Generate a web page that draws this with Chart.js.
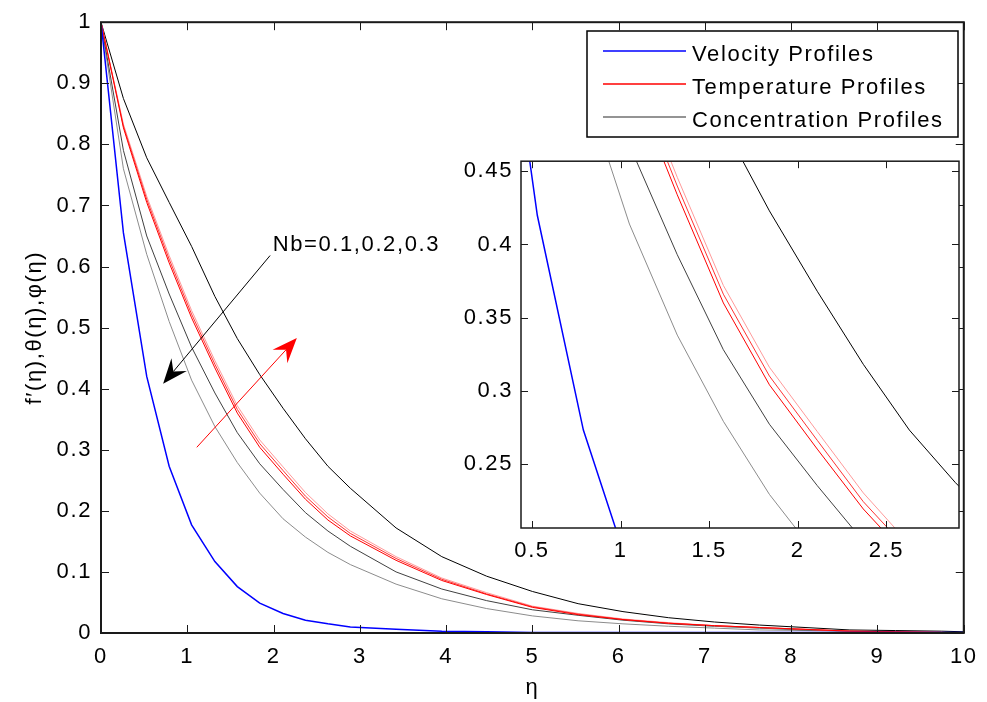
<!DOCTYPE html>
<html>
<head>
<meta charset="utf-8">
<title>Velocity, temperature and concentration profiles</title>
<script src="https://cdn.jsdelivr.net/npm/chart.js@4.4.1/dist/chart.umd.min.js"></script>
<style>
  html, body { margin: 0; padding: 0; background: #fff; }
  #wrap  { position: relative; width: 987px; height: 702px; }
  #main  { position: absolute; left: 0; top: 0; }
  #inset { position: absolute; left: 440px; top: 140px; }
</style>
</head>
<body>
<div id="wrap">
  <canvas id="main" width="987" height="702"></canvas>
  <canvas id="inset" width="540" height="430"></canvas>
</div>
<script>
/* ── DATA ── */
const eta       = [0, 0.26, 0.53, 0.79, 1.05, 1.32, 1.58, 1.84, 2.11, 2.37, 2.63, 2.89, 3.42, 3.95, 4.47, 5.00, 5.53, 6.05, 6.58, 7.11, 7.63, 8.16, 8.68, 9.21, 9.74, 10.00];
const velocity  = [1, 0.655, 0.42, 0.273, 0.177, 0.117, 0.076, 0.049, 0.032, 0.021, 0.015, 0.010, 0.006, 0.003, 0.002, 0.001, 0.001, 0.001, 0.001, 0.001, 0.001, 0.001, 0.001, 0.001, 0.001, 0.001];
const tempNb01  = [1, 0.827, 0.705, 0.606, 0.516, 0.434, 0.360, 0.304, 0.260, 0.219, 0.185, 0.159, 0.119, 0.086, 0.063, 0.042, 0.030, 0.022, 0.016, 0.012, 0.009, 0.006, 0.003, 0.002, 0.001, 0];
const tempNb02  = [1, 0.830, 0.710, 0.612, 0.522, 0.440, 0.366, 0.310, 0.266, 0.224, 0.190, 0.163, 0.122, 0.088, 0.064, 0.043, 0.031, 0.022, 0.016, 0.012, 0.009, 0.006, 0.003, 0.002, 0.001, 0];
const tempNb03  = [1, 0.833, 0.715, 0.618, 0.528, 0.446, 0.372, 0.316, 0.272, 0.230, 0.195, 0.167, 0.125, 0.090, 0.066, 0.044, 0.032, 0.023, 0.017, 0.012, 0.009, 0.006, 0.003, 0.002, 0.001, 0];
const concNb01  = [1, 0.875, 0.778, 0.705, 0.633, 0.551, 0.482, 0.423, 0.368, 0.318, 0.273, 0.237, 0.172, 0.125, 0.093, 0.068, 0.048, 0.035, 0.025, 0.018, 0.013, 0.009, 0.005, 0.004, 0.003, 0.002];
const concNb02  = [1, 0.79, 0.65, 0.555, 0.468, 0.393, 0.328, 0.277, 0.235, 0.197, 0.167, 0.142, 0.100, 0.072, 0.053, 0.038, 0.029, 0.021, 0.015, 0.011, 0.008, 0.005, 0.003, 0.002, 0.001, 0.001];
const concNb03  = [1, 0.76, 0.62, 0.51, 0.414, 0.338, 0.279, 0.229, 0.187, 0.157, 0.132, 0.112, 0.080, 0.056, 0.040, 0.028, 0.020, 0.015, 0.011, 0.008, 0.005, 0.004, 0.003, 0.002, 0.001, 0.001];

const mainXTicks  = [0, 1, 2, 3, 4, 5, 6, 7, 8, 9, 10];
const mainYTicks  = [0, 0.1, 0.2, 0.3, 0.4, 0.5, 0.6, 0.7, 0.8, 0.9, 1];
const insetXTicks = [0.5, 1, 1.5, 2, 2.5];
const insetYTicks = [0.25, 0.3, 0.35, 0.4, 0.45];

const legendLabels = ['Velocity Profiles', 'Temperature Profiles', 'Concentration Profiles'];
const nbLabel      = 'Nb=0.1,0.2,0.3';

/* ── STYLE ── */
const FONT = "'Liberation Sans', Arial, sans-serif";
Chart.defaults.font.family = FONT;
Chart.defaults.font.size   = 22;
Chart.defaults.color       = '#000';

const series = [
  { data: velocity, color: '#0000ff', width: 1.5 },
  { data: tempNb01, color: '#ff0000', width: 1 },
  { data: tempNb02, color: '#ff3333', width: 1 },
  { data: tempNb03, color: '#ff9a9a', width: 1 },
  { data: concNb01, color: '#000000', width: 1 },
  { data: concNb02, color: '#404040', width: 1 },
  { data: concNb03, color: '#8c8c8c', width: 1 },
];

const makeDatasets = () => series.map(s => ({
  data: eta.map((x, i) => ({ x, y: s.data[i] })),
  borderColor: s.color,
  borderWidth: s.width,
  pointRadius: 0,
  tension: 0,
  fill: false,
}));

const tickList = arr => s => { s.ticks = arr.map(v => ({ value: v })); };

/* MATLAB-like box with inward ticks */
function drawFrame(chart, len, lw) {
  const { ctx, chartArea: a, scales: { x, y } } = chart;
  ctx.save();
  ctx.strokeStyle = '#1a1a1a';
  ctx.lineWidth = lw;
  ctx.strokeRect(a.left, a.top, a.right - a.left, a.bottom - a.top);
  ctx.lineWidth = 1;
  ctx.beginPath();
  x.ticks.forEach(t => {
    const px = Math.round(x.getPixelForValue(t.value)) + 0.5;
    ctx.moveTo(px, a.bottom); ctx.lineTo(px, a.bottom - len);
    ctx.moveTo(px, a.top);    ctx.lineTo(px, a.top + len);
  });
  y.ticks.forEach(t => {
    const py = Math.round(y.getPixelForValue(t.value)) + 0.5;
    ctx.moveTo(a.left, py);  ctx.lineTo(a.left + len, py);
    ctx.moveTo(a.right, py); ctx.lineTo(a.right - len, py);
  });
  ctx.stroke();
  ctx.restore();
}

function drawArrow(ctx, x1, y1, x2, y2, color) {
  const ang = Math.atan2(y2 - y1, x2 - x1);
  const c = Math.cos(ang), s = Math.sin(ang);
  const L = 25, W = 10, back = 16;
  ctx.save();
  ctx.strokeStyle = color;
  ctx.fillStyle = color;
  ctx.lineWidth = 1;
  ctx.beginPath();
  ctx.moveTo(x1, y1);
  ctx.lineTo(x2 - c * back, y2 - s * back);
  ctx.stroke();
  const bx = x2 - c * L, by = y2 - s * L;
  ctx.beginPath();
  ctx.moveTo(x2, y2);
  ctx.lineTo(bx - s * W, by + c * W);
  ctx.lineTo(x2 - c * back, y2 - s * back);
  ctx.lineTo(bx + s * W, by - c * W);
  ctx.closePath();
  ctx.fill();
  ctx.restore();
}

const spacing = { id: 'spacing', beforeDraw(chart) { chart.ctx.letterSpacing = '1.6px'; } };

/* ── MAIN CHART ── */
const mainDecor = {
  id: 'mainDecor',
  afterDatasetsDraw(chart) {
    const { ctx, scales: { x, y } } = chart;
    drawFrame(chart, 8, 2);

    // Nb annotation + arrows
    drawArrow(ctx, x.getPixelForValue(1.96), y.getPixelForValue(0.618),
                   x.getPixelForValue(0.72), y.getPixelForValue(0.408), '#000');
    drawArrow(ctx, x.getPixelForValue(1.11), y.getPixelForValue(0.304),
                   x.getPixelForValue(2.27), y.getPixelForValue(0.483), '#ff0000');
    ctx.save();
    ctx.letterSpacing = '1.6px';
    ctx.font = `22px ${FONT}`;
    ctx.fillStyle = '#000';
    ctx.textBaseline = 'alphabetic';
    ctx.fillText(nbLabel, x.getPixelForValue(1.99), y.getPixelForValue(0.626));
    ctx.restore();
  },
  afterDraw(chart) {
    // legend box (top right)
    const { ctx } = chart;
    const box = { l: 587, t: 31, w: 371, h: 106 };
    const rows = [51, 84, 117];
    const cols = ['#0000ff', '#ff0000', '#707070'];
    ctx.save();
    ctx.fillStyle = '#fff';
    ctx.fillRect(box.l, box.t, box.w, box.h);
    ctx.strokeStyle = '#000';
    ctx.lineWidth = 1.5;
    ctx.strokeRect(box.l, box.t, box.w, box.h);
    ctx.font = `22px ${FONT}`;
    ctx.letterSpacing = '1.6px';
    ctx.textBaseline = 'alphabetic';
    legendLabels.forEach((lab, i) => {
      ctx.strokeStyle = cols[i];
      ctx.lineWidth = 1.5;
      ctx.beginPath();
      ctx.moveTo(603, rows[i]);
      ctx.lineTo(686, rows[i]);
      ctx.stroke();
      ctx.fillStyle = '#000';
      ctx.fillText(lab, 692, rows[i] + 9.5);
    });
    ctx.restore();
  },
};

new Chart(document.getElementById('main'), {
  type: 'line',
  data: { datasets: makeDatasets() },
  options: {
    responsive: false,
    devicePixelRatio: 1,
    animation: false,
    events: [],
    layout: { padding: { top: 17, right: 22, left: 0, bottom: 0 } },
    plugins: { legend: { display: false }, tooltip: { enabled: false } },
    scales: {
      x: {
        type: 'linear', min: 0, max: 10,
        afterBuildTicks: tickList(mainXTicks),
        afterFit: s => { s.height = 69; },
        grid: { display: false, drawTicks: false },
        border: { display: false },
        ticks: { padding: 11, maxRotation: 0, autoSkip: false, callback: v => String(v) },
        title: { display: true, text: 'η', padding: { top: 0, bottom: 1 } },
      },
      y: {
        type: 'linear', min: 0, max: 1,
        afterBuildTicks: tickList(mainYTicks),
        afterFit: s => { s.width = 101; },
        grid: { display: false, drawTicks: false },
        border: { display: false },
        ticks: { padding: 9, autoSkip: false, callback: v => String(v) },
        title: { display: true, text: 'f′(η),θ(η),φ(η)', padding: { top: 22, bottom: 0 } },
      },
    },
  },
  plugins: [spacing, mainDecor],
});

/* ── INSET (zoom of 0.44 < η < 2.91) ── */
const insetDecor = {
  id: 'insetDecor',
  beforeDatasetsDraw(chart) {
    const { ctx, chartArea: a } = chart;
    ctx.save();
    ctx.fillStyle = '#fff';
    ctx.fillRect(a.left, a.top, a.right - a.left, a.bottom - a.top);
    ctx.restore();
  },
  afterDatasetsDraw(chart) { drawFrame(chart, 7, 1.5); },
};

new Chart(document.getElementById('inset'), {
  type: 'line',
  data: { datasets: makeDatasets() },
  options: {
    responsive: false,
    devicePixelRatio: 1,
    animation: false,
    events: [],
    layout: { padding: { top: 15, right: 21, left: 0, bottom: 0 } },
    plugins: { legend: { display: false }, tooltip: { enabled: false } },
    scales: {
      x: {
        type: 'linear', min: 0.438, max: 2.91,
        afterBuildTicks: tickList(insetXTicks),
        afterFit: s => { s.height = 42; },
        grid: { display: false, drawTicks: false },
        border: { display: false },
        ticks: { padding: 10, maxRotation: 0, autoSkip: false, callback: v => String(v) },
      },
      y: {
        type: 'linear', min: 0.206, max: 0.457,
        afterBuildTicks: tickList(insetYTicks),
        afterFit: s => { s.width = 81; },
        grid: { display: false, drawTicks: false },
        border: { display: false },
        ticks: { padding: 8, autoSkip: false, callback: v => String(v) },
      },
    },
  },
  plugins: [spacing, insetDecor],
});
</script>
</body>
</html>
